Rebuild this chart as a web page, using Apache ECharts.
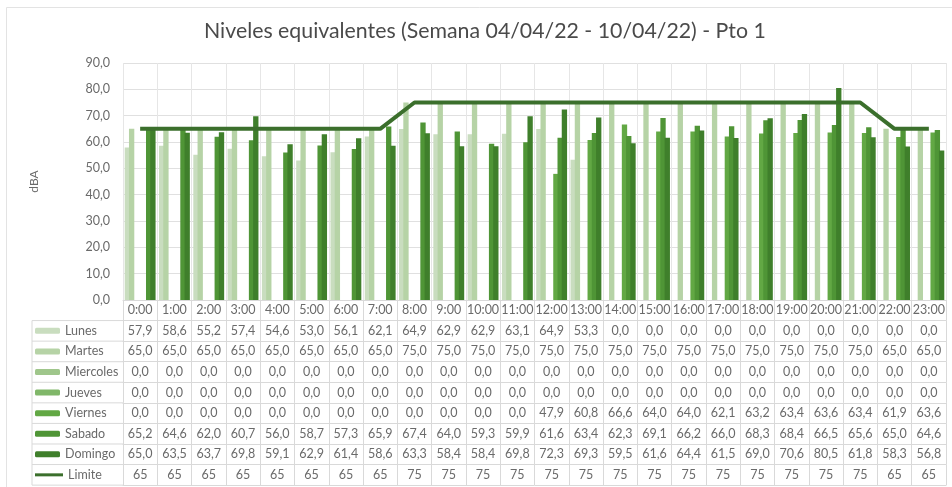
<!DOCTYPE html>
<html><head><meta charset="utf-8">
<script src="https://cdn.jsdelivr.net/npm/echarts@6/dist/echarts.min.js"></script>
<style>html,body{margin:0;padding:0;background:#fff}#c{width:952px;height:487px}</style>
</head><body><div id="c"></div>
<script>
const hours = ['0:00','1:00','2:00','3:00','4:00','5:00','6:00','7:00','8:00','9:00','10:00','11:00','12:00','13:00','14:00','15:00','16:00','17:00','18:00','19:00','20:00','21:00','22:00','23:00'];
const lunes     = [57.9,58.6,55.2,57.4,54.6,53.0,56.1,62.1,64.9,62.9,62.9,63.1,64.9,53.3,0,0,0,0,0,0,0,0,0,0];
const martes    = [65,65,65,65,65,65,65,65,75,75,75,75,75,75,75,75,75,75,75,75,75,75,65,65];
const miercoles = [0,0,0,0,0,0,0,0,0,0,0,0,0,0,0,0,0,0,0,0,0,0,0,0];
const jueves    = [0,0,0,0,0,0,0,0,0,0,0,0,0,0,0,0,0,0,0,0,0,0,0,0];
const viernes   = [0,0,0,0,0,0,0,0,0,0,0,0,47.9,60.8,66.6,64.0,64.0,62.1,63.2,63.4,63.6,63.4,61.9,63.6];
const sabado    = [65.2,64.6,62.0,60.7,56.0,58.7,57.3,65.9,67.4,64.0,59.3,59.9,61.6,63.4,62.3,69.1,66.2,66.0,68.3,68.4,66.5,65.6,65.0,64.6];
const domingo   = [65.0,63.5,63.7,69.8,59.1,62.9,61.4,58.6,63.3,58.4,58.4,69.8,72.3,69.3,59.5,61.6,64.4,61.5,69.0,70.6,80.5,61.8,58.3,56.8];
const limite    = [65,65,65,65,65,65,65,65,75,75,75,75,75,75,75,75,75,75,75,75,75,75,65,65];
const seriesNames = ['Lunes','Martes','Miercoles','Jueves','Viernes','Sabado','Domingo','Limite'];
const yMin = 0, yMax = 90, yStep = 10;

const barData = [lunes, martes, miercoles, jueves, viernes, sabado, domingo];
const colors = ['#c9ddbf','#b6d3a6','#9fc68b','#80b769','#62a844','#4f9536','#3f7f2b','#3b6f2c'];
const FONT = 'Lato';
const TXT = '#6a6a6a';
const GRIDC = '#d9d9d9';
const ROW = 20.57;
const GL = 123, GR = 6, GB = 187;
const baseY = 487 - GB;

const fmt1 = v => v.toFixed(1).replace('.', ',');
const rowsData = barData.concat([limite]);

const xAxes = [{
  type: 'category', data: hours, position: 'bottom', offset: 0,
  axisLine: {lineStyle: {color: GRIDC}},
  axisTick: {show: true, interval: 0, length: ROW, lineStyle: {color: GRIDC}},
  axisLabel: {interval: 0, margin: ROW/2, verticalAlign: 'middle', color: TXT, fontSize: 12.5, fontFamily: FONT},
  splitLine: {show: true, interval: 0, lineStyle: {color: '#e6e6e6'}}
}];
rowsData.forEach((arr, k) => {
  const isLim = k === rowsData.length - 1;
  xAxes.push({
    type: 'category', data: hours, position: 'bottom', offset: ROW * (k + 1),
    axisLine: {lineStyle: {color: GRIDC}},
    axisTick: {show: true, interval: 0, length: ROW, lineStyle: {color: GRIDC}},
    axisLabel: {interval: 0, margin: ROW/2, verticalAlign: 'middle', color: TXT, fontSize: 12.5, fontFamily: FONT,
      formatter: (v, i) => isLim ? String(arr[i]) : fmt1(arr[i])},
    splitLine: {show: false}
  });
});
xAxes.push({
  type: 'category', data: hours, position: 'bottom', offset: ROW * (rowsData.length + 1),
  axisLine: {lineStyle: {color: GRIDC}}, axisTick: {show: false}, axisLabel: {show: false}, splitLine: {show: false}
});

const series = barData.map((arr, i) => ({
  name: seriesNames[i], type: 'bar', data: arr, xAxisIndex: 0,
  barGap: '-20%', barCategoryGap: '10%',
  itemStyle: {color: colors[i]}
}));
series.push({
  name: 'Limite', type: 'line', data: limite, xAxisIndex: 0, symbol: 'none',
  lineStyle: {color: colors[7], width: 4}, itemStyle: {color: colors[7]}, z: 5
});

const legends = seriesNames.map((n, k) => {
  const isLim = n === 'Limite';
  return {
    orient: 'horizontal', left: 30, top: baseY + ROW * (k + 1.5) - 7 - 5,
    itemWidth: isLim ? 28 : 25, itemHeight: isLim ? 3 : 6, itemGap: isLim ? 1 : 4, selectedMode: false,
    data: [isLim ? {name: n, icon: 'rect'} : n],
    textStyle: {fontFamily: FONT, fontSize: 12.5, color: TXT, lineHeight: 14}
  };
});

const graphic = [];
for (let k = 1; k <= 9; k++) {
  graphic.push({type: 'line', shape: {x1: 32, y1: baseY + k*ROW, x2: GL, y2: baseY + k*ROW}, style: {stroke: GRIDC, lineWidth: 1}, silent: true});
}
graphic.push({type: 'line', shape: {x1: 32, y1: baseY + ROW, x2: 32, y2: baseY + 9*ROW}, style: {stroke: GRIDC, lineWidth: 1}, silent: true});
graphic.push({type: 'rect', shape: {x: 6.5, y: 7.5, width: 1000, height: 1000}, style: {fill: null, stroke: '#e3e3e3', lineWidth: 1}, silent: true, z: -10});

const chart = echarts.init(document.getElementById('c'), null, {renderer: 'canvas'});
chart.setOption({
  animation: false,
  backgroundColor: '#fff',
  title: {text: 'Niveles equivalentes (Semana 04/04/22 - 10/04/22) - Pto 1', left: 199, top: 16,
    textStyle: {fontFamily: FONT, fontSize: 21.3, fontWeight: 'normal', color: '#4a4a4a'}},
  grid: {left: GL, right: GR, top: 63, bottom: GB, containLabel: false},
  legend: legends,
  xAxis: xAxes,
  yAxis: {type: 'value', min: yMin, max: yMax, interval: yStep,
    name: 'dBA', nameLocation: 'middle', nameGap: 83,
    nameTextStyle: {fontFamily: FONT, fontSize: 12, color: TXT},
    axisLine: {show: false}, axisTick: {show: false},
    axisLabel: {formatter: v => fmt1(v), color: TXT, fontSize: 12.5, fontFamily: FONT, margin: 13},
    splitLine: {lineStyle: {color: '#e0e0e0'}}},
  graphic: graphic,
  series: series
});
</script></body></html>
